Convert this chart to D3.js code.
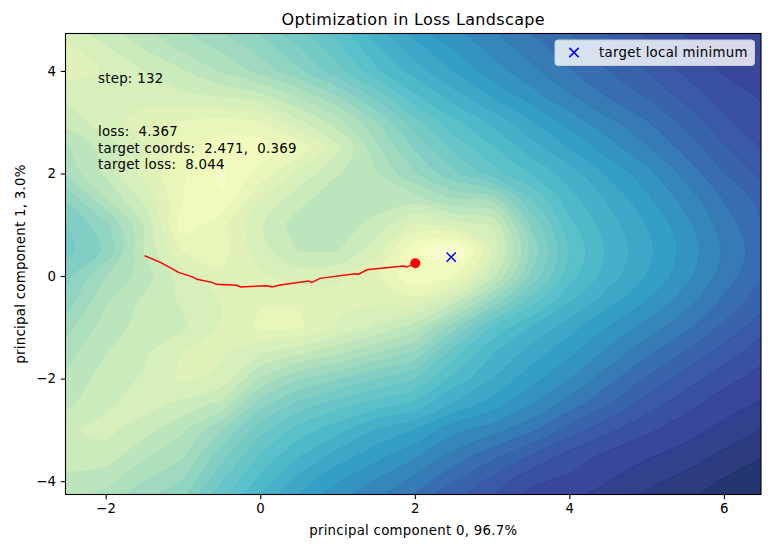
<!DOCTYPE html>
<html>
<head>
<meta charset="utf-8">
<script src="https://cdn.jsdelivr.net/npm/d3@7"></script>
<style>
  body { margin: 0; background: #fff; }
  text { font-family: "DejaVu Sans", sans-serif; fill: #000; font-size: 13.33px; letter-spacing: 0.27px; white-space: pre; }
</style>
</head>
<body>
<div class="canvas"></div>
<script>
// surface, as position (0-100) in the colormap
const gridX = [-3,-2.5,-2,-1.5,-1,-0.5,0,0.5,1,1.5,2,2.5,3,3.5,4,4.5,5,5.5,6,6.5,7];
const gridY = [5,4.5,4,3.5,3,2.5,2,1.5,1,0.5,0,-0.5,-1,-1.5,-2,-2.5,-3,-3.5,-4,-4.5];
const surface = [
  [18,20,23,27,31,35,39,44,50,57,63,67,71,74.5,78,81.5,85,87.5,89.5,90.5,91.5],
  [16,16,20,24,28,31,35,40,46,53,59,64,68,72,75.5,79,82.5,86,88.5,89.5,90.5],
  [15.5,15,17,20,23,27,31,36,42,49,55,60,65,69,73,76.5,80,84,87,88.5,89.5],
  [20,19,18,18,19,20,22,27,33,41,49,55,60,65,69.5,73.5,77,81,85,87,88.5],
  [25,22,18,15,13,12,13,19,25,33,42,49,54,59.5,64.5,69,73,77.5,82.5,86,87.5],
  [30,27,22,17,11.5,8,8.2,11,19,29,37,44,49.5,55,60,65,69.5,74.5,79.5,83.5,86.5],
  [33,29,22.5,15.5,10.5,6,11.2,17.5,23,26.5,33,39,45,50,55,60.5,65.5,71,76.5,81,84.5],
  [39,36,27,19,10,7,16.5,22,26,25.5,25,30,31,43,52,57,62.5,68,73.5,78,82.5],
  [42,40,34,23,8,12,19.5,25.2,25.5,22,16,18,20,37,49,55,60,65.5,71.5,76.5,80.5],
  [43,41,36,23,13,12,18.5,23.5,23.5,18,7,2,17,34,47,54,59,64.5,70.5,75.5,80],
  [39,37.5,30,25,18,14,16,18,17,14,7,10,22,37,48.5,55,60,65.5,71.5,76.5,80.5],
  [37,35,27,22.5,19.5,16.5,13.6,13.6,16,16,15,22,34,45,53,58.5,63.5,68.5,74,79,82.5],
  [33,31,25,22,20.5,16.2,12.8,12.8,17,20.5,25,35,47,53.5,58.5,63.5,68,72.5,77.5,82,85],
  [30,28,23.5,20.5,16.5,16.2,19.5,22.5,26,30,34,45,53,58,62.5,67.5,72.5,77,81.5,85.5,87.5],
  [27,25.5,22,19.5,16,17.5,27,33,36,40,43,51,56.5,62,66.5,72,77,81.5,85.5,88,90],
  [25,24,20.5,18.5,21,24.5,35,41,45,48,51,57,61.5,66.5,71.5,76.5,81.5,85.5,88.5,90.5,92.5],
  [23,20.5,19,22,26,33,42,48,52,57,60,65.5,68.5,72.5,78,82.5,86,88.5,91,93.5,96],
  [21.5,20,21.5,26,29.5,38.5,47,53,58,62,66,71,75.5,80,84.5,87.5,89.5,91.5,94,96.5,98.5],
  [23,25,25.5,30,33.5,43,51,58,63,67,71,76.5,81,86,87.5,90,92.5,94.5,97,99,100],
  [25,27,30,34,38,47,55,62,67,71,76,80.5,85,88.5,90,92.5,95,97,99,100,100]
];
const levelCount = 30;
const cmapStops = ["#ffffd9","#edf8b1","#c7e9b4","#7fcdbb","#41b6c4","#1d91c0","#225ea8","#253494","#081d58"];
const cmapPositions = [0,9.5,21.5,36,50,62.5,75,87.5,100];

const trailX = [-1.495,-1.292,-1.056,-0.862,-0.818,-0.624,-0.568,-0.301,-0.258,0.087,0.151,0.258,0.624,0.668,0.775,1.227,1.27,1.379,1.851,1.895,2.006];
const trailY = [0.396,0.267,0.072,-0.025,-0.064,-0.123,-0.162,-0.181,-0.214,-0.189,-0.214,-0.175,-0.097,-0.123,-0.045,0.045,0.033,0.123,0.195,0.175,0.248];
const target = [2.471, 0.369];

const xTicks = [-2, 0, 2, 4, 6];
const yTicks = [-4, -2, 0, 2, 4];
const infoLines = ["loss:  4.367", "target coords:  2.471,  0.369", "target loss:  8.044"];

const margin = {top: 33.5, right: 13, bottom: 49.5, left: 65.5};
const width = 774, height = 544;
const graphWidth = width - margin.left - margin.right;
const graphHeight = height - margin.top - margin.bottom;

const svg = d3.select(".canvas").append("svg")
  .attr("width", width)
  .attr("height", height)
  .style("display", "block");

const graph = svg.append("g")
  .attr("transform", `translate(${margin.left},${margin.top})`);

const x = d3.scaleLinear().domain([-2.52, 6.48]).range([0, graphWidth]);
const y = d3.scaleLinear().domain([-4.26, 4.73]).range([graphHeight, 0]);

// colormap, flat on white at alpha .9 so that the stack of bands doesn't add up
const cmap = d3.scaleLinear().domain(cmapPositions).range(cmapStops);
const onWhite = c => d3.interpolateRgb(c, "#fff")(0.1);

svg.append("clipPath").attr("id", "plot")
  .append("rect").attr("width", graphWidth).attr("height", graphHeight);

const thresholds = d3.range(levelCount).map(i => i * 100 / levelCount);
const contours = d3.contours()
  .size([gridX.length, gridY.length])
  .thresholds(thresholds)(surface.flat());

// d3.contours puts value i at i+.5
const gx = d3.scaleLinear().domain([0.5, gridX.length - 0.5]).range([x(gridX[0]), x(gridX[gridX.length - 1])]);
const gy = d3.scaleLinear().domain([0.5, gridY.length - 0.5]).range([y(gridY[0]), y(gridY[gridY.length - 1])]);
const ringPath = d3.line().x(d => gx(d[0])).y(d => gy(d[1])).curve(d3.curveCatmullRomClosed.alpha(0.5));
const bandPath = c => c.coordinates
  .map(poly => poly.map(ring => ringPath(ring.slice(0, -1))).join(""))
  .join("");

const bands = graph.append("g").attr("clip-path", "url(#plot)");
bands.selectAll("path")
  .data(contours)
  .enter()
  .append("path")
  .attr("d", bandPath)
  .attr("fill", d => onWhite(cmap(d.value + 50 / levelCount)))
  .attr("stroke", d => cmap(d.value))
  .attr("stroke-width", 0.7)
  .attr("stroke-opacity", 0.5);

// trail and markers
const trail = d3.line().x(i => x(trailX[i])).y(i => y(trailY[i]));
graph.append("path")
  .attr("d", trail(d3.range(trailX.length)))
  .attr("fill", "none")
  .attr("stroke", "#f00")
  .attr("stroke-width", 1.5);

graph.append("circle")
  .attr("cx", x(trailX[trailX.length - 1]))
  .attr("cy", y(trailY[trailY.length - 1]))
  .attr("r", 5)
  .attr("fill", "#f00");

const cross = d3.symbol().type(d3.symbolTimes).size(58);
graph.append("path")
  .attr("d", cross())
  .attr("transform", `translate(${x(target[0])},${y(target[1])})`)
  .attr("fill", "none")
  .attr("stroke", "#00f")
  .attr("stroke-width", 1.5);

// text block
graph.append("text")
  .attr("x", x(-2.1))
  .attr("y", 49.5)
  .text("step: 132");
graph.append("g").selectAll("text")
  .data(infoLines)
  .enter()
  .append("text")
  .attr("x", x(-2.1))
  .attr("y", (d, i) => 102.5 + i * 16.5)
  .text(d => d);

// legend
const legend = graph.append("g").attr("transform", `translate(${graphWidth - 206},6.5)`);
legend.append("rect")
  .attr("width", 199.5)
  .attr("height", 25.5)
  .attr("rx", 3)
  .attr("fill", "#fff")
  .attr("fill-opacity", 0.8)
  .attr("stroke", "#ccc")
  .attr("stroke-width", 1);
legend.append("path")
  .attr("d", cross())
  .attr("transform", "translate(19,12.5)")
  .attr("fill", "none")
  .attr("stroke", "#00f")
  .attr("stroke-width", 1.5);
legend.append("text")
  .attr("x", 44)
  .attr("y", 17)
  .text("target local minimum");

// axes
const xAxis = d3.axisBottom(x).tickValues(xTicks).tickSize(4.7).tickPadding(4.5).tickFormat(d3.format("d"));
const yAxis = d3.axisLeft(y).tickValues(yTicks).tickSize(4.7).tickPadding(4.5).tickFormat(d3.format("d"));
const xAxisGroup = graph.append("g").attr("transform", `translate(0,${graphHeight})`).call(xAxis);
const yAxisGroup = graph.append("g").call(yAxis);
[xAxisGroup, yAxisGroup].forEach(g => {
  g.select(".domain").remove();
  g.selectAll("line").attr("stroke", "#000").attr("stroke-width", 1.1);
  g.selectAll("text").style("font-size", "13.33px").style("font-family", '"DejaVu Sans", sans-serif').attr("fill", "#000");
});

graph.append("rect")
  .attr("width", graphWidth)
  .attr("height", graphHeight)
  .attr("fill", "none")
  .attr("stroke", "#000")
  .attr("stroke-width", 1.1);

svg.append("text")
  .attr("x", margin.left + graphWidth / 2)
  .attr("y", 25)
  .attr("text-anchor", "middle")
  .style("font-size", "16px")
  .style("letter-spacing", "0.34px")
  .text("Optimization in Loss Landscape");

svg.append("text")
  .attr("x", margin.left + graphWidth / 2)
  .attr("y", 535)
  .attr("text-anchor", "middle")
  .text("principal component 0, 96.7%");

svg.append("text")
  .attr("transform", `translate(24.5,${margin.top + graphHeight / 2}) rotate(-90)`)
  .attr("text-anchor", "middle")
  .text("principal component 1, 3.0%");
</script>
</body>
</html>
